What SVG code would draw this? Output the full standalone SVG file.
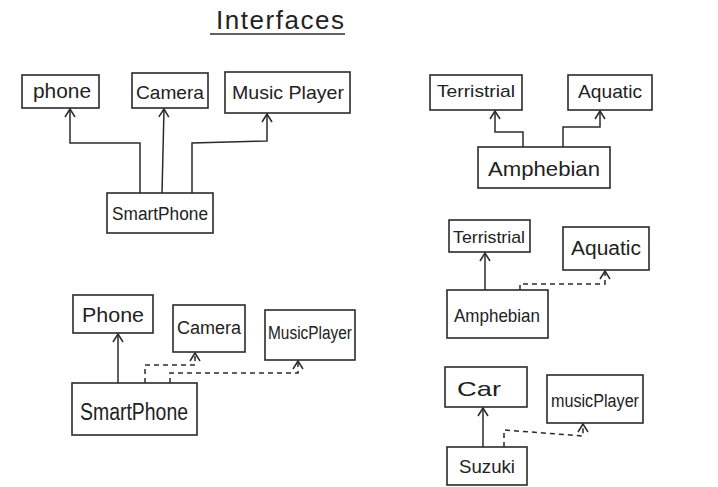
<svg xmlns="http://www.w3.org/2000/svg" width="718" height="487" viewBox="0 0 718 487">
<style>
.box{fill:none;stroke:#2b2b2b;stroke-width:1.6}
.lbl{font-family:"Liberation Sans","DejaVu Sans",sans-serif;fill:#222;text-anchor:middle;dominant-baseline:central}
.ln{fill:none;stroke:#2b2b2b;stroke-width:1.5;marker-end:url(#ah)}
.dash{stroke-dasharray:5 4}
</style>
<defs>
<marker id="ah" markerWidth="12" markerHeight="12" refX="10" refY="6" orient="auto" markerUnits="userSpaceOnUse">
<path d="M2,1 L10,6 L2,11" fill="none" stroke="#2b2b2b" stroke-width="1.5"/>
</marker>
</defs>
<rect width="718" height="487" fill="#ffffff"/>
<g id="title">
<text class="lbl" x="280" y="20" font-size="26" textLength="128" lengthAdjust="spacing">Interfaces</text>
<line x1="210" y1="34" x2="345" y2="34" stroke="#2b2b2b" stroke-width="1.5"/>
</g>
<g id="connectors">
<polyline class="ln" points="140,193 140,143 70,143 70,109"/>
<polyline class="ln" points="162,193 164,109"/>
<polyline class="ln" points="192,193 192,143 267,141 267,114"/>
<polyline class="ln" points="523,147 523,132 495,132 495,111"/>
<polyline class="ln" points="563,147 563,127 600,127 600,111"/>
<polyline class="ln" points="485,290 485,253"/>
<polyline class="ln dash" points="520,290 520,284 605,284 605,271"/>
<polyline class="ln" points="118,383 118,334"/>
<polyline class="ln dash" points="145,383 145,365 195,365 195,353"/>
<polyline class="ln dash" points="170,383 170,373 298,373 298,361"/>
<polyline class="ln" points="483,447 483,408"/>
<polyline class="ln dash" points="504,447 504,430 583,436 583,424"/>
</g>
<g id="n_phone_top"><rect class="box" x="22" y="75" width="77" height="33"/><text class="lbl" x="62" y="91" font-size="20" textLength="58" lengthAdjust="spacingAndGlyphs">phone</text></g>
<g id="n_camera_top"><rect class="box" x="132" y="73" width="76" height="35"/><text class="lbl" x="170" y="92" font-size="19" textLength="68" lengthAdjust="spacingAndGlyphs">Camera</text></g>
<g id="n_musicplayer_top"><rect class="box" x="225" y="72" width="125" height="41"/><text class="lbl" x="288" y="92" font-size="19" textLength="112" lengthAdjust="spacingAndGlyphs">Music Player</text></g>
<g id="n_smartphone_top"><rect class="box" x="107" y="193" width="106" height="40"/><text class="lbl" x="160" y="214" font-size="18" textLength="96" lengthAdjust="spacingAndGlyphs">SmartPhone</text></g>
<g id="n_terristrial_top"><rect class="box" x="430" y="75" width="92" height="35"/><text class="lbl" x="476" y="91" font-size="17" textLength="78" lengthAdjust="spacingAndGlyphs">Terristrial</text></g>
<g id="n_aquatic_top"><rect class="box" x="568" y="75" width="84" height="35"/><text class="lbl" x="610" y="91" font-size="19" textLength="64" lengthAdjust="spacingAndGlyphs">Aquatic</text></g>
<g id="n_amphebian_top"><rect class="box" x="478" y="147" width="132" height="41"/><text class="lbl" x="544" y="168" font-size="21" textLength="112" lengthAdjust="spacingAndGlyphs">Amphebian</text></g>
<g id="n_terristrial_mid"><rect class="box" x="449" y="220" width="81" height="32"/><text class="lbl" x="489" y="237" font-size="17" textLength="72" lengthAdjust="spacingAndGlyphs">Terristrial</text></g>
<g id="n_aquatic_mid"><rect class="box" x="563" y="227" width="86" height="43"/><text class="lbl" x="606" y="248" font-size="20" textLength="70" lengthAdjust="spacingAndGlyphs">Aquatic</text></g>
<g id="n_amphebian_mid"><rect class="box" x="447" y="290" width="101" height="48"/><text class="lbl" x="497" y="315" font-size="19" textLength="86" lengthAdjust="spacingAndGlyphs">Amphebian</text></g>
<g id="n_phone_bl"><rect class="box" x="73" y="295" width="80" height="38"/><text class="lbl" x="113" y="315" font-size="20" textLength="62" lengthAdjust="spacingAndGlyphs">Phone</text></g>
<g id="n_camera_bl"><rect class="box" x="173" y="305" width="72" height="47"/><text class="lbl" x="209" y="328" font-size="18" textLength="64" lengthAdjust="spacingAndGlyphs">Camera</text></g>
<g id="n_musicplayer_bl"><rect class="box" x="265" y="310" width="90" height="50"/><text class="lbl" x="310" y="333" font-size="18" textLength="84" lengthAdjust="spacingAndGlyphs">MusicPlayer</text></g>
<g id="n_smartphone_bl"><rect class="box" x="72" y="383" width="125" height="52"/><text class="lbl" x="134" y="412" font-size="23" textLength="108" lengthAdjust="spacingAndGlyphs">SmartPhone</text></g>
<g id="n_car"><rect class="box" x="445" y="367" width="82" height="40"/><text class="lbl" x="479" y="388" font-size="21" textLength="44" lengthAdjust="spacingAndGlyphs">Car</text></g>
<g id="n_musicplayer_br"><rect class="box" x="547" y="375" width="96" height="48"/><text class="lbl" x="595" y="401" font-size="18" textLength="88" lengthAdjust="spacingAndGlyphs">musicPlayer</text></g>
<g id="n_suzuki"><rect class="box" x="447" y="447" width="80" height="38"/><text class="lbl" x="487" y="467" font-size="18" textLength="56" lengthAdjust="spacingAndGlyphs">Suzuki</text></g>
</svg>
